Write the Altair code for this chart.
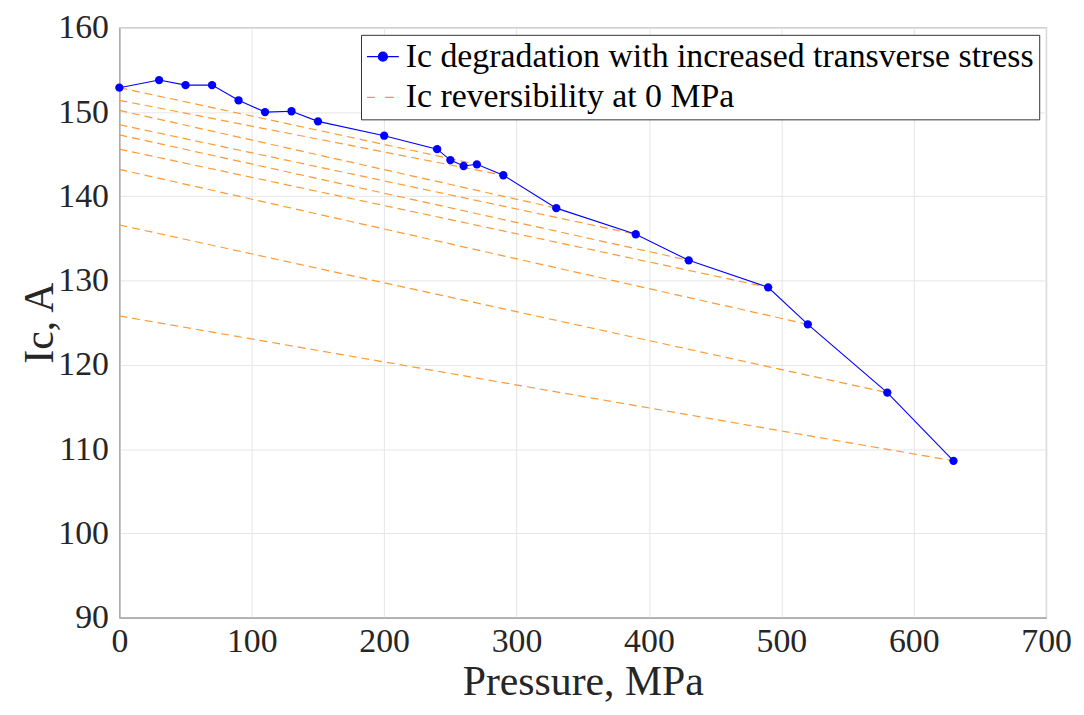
import altair as alt
import pandas as pd

# Measured Ic vs transverse pressure
pressure = [0, 30, 50, 70, 90, 110, 130, 150, 200, 240, 250, 260, 270, 290, 330, 390, 430, 490, 520, 580, 630]
ic = [152.9, 153.8, 153.2, 153.2, 151.4, 150.0, 150.1, 148.9, 147.2, 145.6, 144.3, 143.6, 143.8,
      142.5, 138.6, 135.5, 132.4, 129.2, 124.8, 116.7, 108.6]

# Reversibility lines: from loaded point back to Ic recovered at 0 MPa
rev_end_pressure = [270, 290, 330, 390, 430, 490, 520, 580, 630]
rev_ic_at_zero = [152.9, 151.4, 150.2, 148.5, 147.3, 145.6, 143.2, 136.6, 125.8]

S1 = "Ic degradation with increased transverse stress"
S2 = "Ic reversibility at 0 MPa"
BLUE = "#0000FF"
ORANGE = "#FF9933"
FONT = "Liberation Serif, Times New Roman, serif"

main_df = pd.DataFrame({"p": pressure, "ic": ic, "series": S1})

rows = []
lookup = dict(zip(pressure, ic))
for k, (pe, i0) in enumerate(zip(rev_end_pressure, rev_ic_at_zero)):
    rows.append({"p": 0, "ic": i0, "seg": k})
    rows.append({"p": pe, "ic": lookup[pe], "seg": k})
rev_df = pd.DataFrame(rows)

xscale = alt.Scale(domain=[0, 700], nice=False, zero=False)
yscale = alt.Scale(domain=[90, 160], nice=False, zero=False)
cscale = alt.Scale(domain=[S1, S2], range=[BLUE, ORANGE])

xenc = alt.X("p:Q", scale=xscale, title="Pressure, MPa",
             axis=alt.Axis(values=list(range(0, 701, 100)), labelFontSize=34, titleFontSize=42,
                           labelPadding=7, titlePadding=3, ticks=False, labelFlush=False,
                           labelFont=FONT, titleFont=FONT))
yenc = alt.Y("ic:Q", scale=yscale, title="Ic, A",
             axis=alt.Axis(values=list(range(90, 161, 10)), labelFontSize=34, titleFontSize=42,
                           labelPadding=11, titlePadding=-4, ticks=False, labelFlush=False,
                           labelFont=FONT, titleFont=FONT))

dashed = alt.Chart(rev_df).mark_line(strokeDash=[8, 5], strokeWidth=1.2, color=ORANGE).encode(
    x=xenc, y=yenc, detail="seg:N",
)

blue_line = alt.Chart(main_df).mark_line(strokeWidth=1.1, color=BLUE).encode(
    x=xenc, y=yenc,
)

path_blue = "M-1,0H1M-0.28,0A0.28,0.28 0 1,0 0.28,0A0.28,0.28 0 1,0 -0.28,0Z"
path_orange = "M-1,0H-0.5M0.12,0H0.7"

legend = alt.Legend(
    title=None, orient="none", legendX=243, legendY=7,
    labelFontSize=34, labelFont=FONT, labelColor="black",
    symbolSize=1024,
    symbolType=alt.ExprRef(expr=f"datum.value == '{S1}' ? '{path_blue}' : '{path_orange}'"),
    symbolStrokeColor=alt.ExprRef(expr=f"datum.value == '{S1}' ? '{BLUE}' : '{ORANGE}'"),
    symbolStrokeWidth=1.3,
    fillColor="white", strokeColor="#333333", padding=5, labelOffset=6,
    rowPadding=7, labelLimit=0,
)

points = alt.Chart(main_df).mark_point(filled=True, size=70, opacity=1).encode(
    x=xenc, y=yenc,
    color=alt.Color("series:N", scale=cscale, legend=legend),
)

chart = alt.layer(dashed, blue_line, points).properties(
    width=932, height=593,
    autosize=alt.AutoSizeParams(type="none"),
    padding={"left": 112, "top": 18, "right": 30, "bottom": 90},
).configure(
    font=FONT,
).configure_axis(
    labelColor="#262626", titleColor="#262626",
    titleFontWeight="normal", gridColor="#E6E6E6", domainColor="#A0A0A0", domainWidth=1.2,
).configure_view(
    stroke="#A0A0A0", strokeWidth=1.2,
)

chart.save("out.html", embed_options={"renderer": "svg", "actions": False})
